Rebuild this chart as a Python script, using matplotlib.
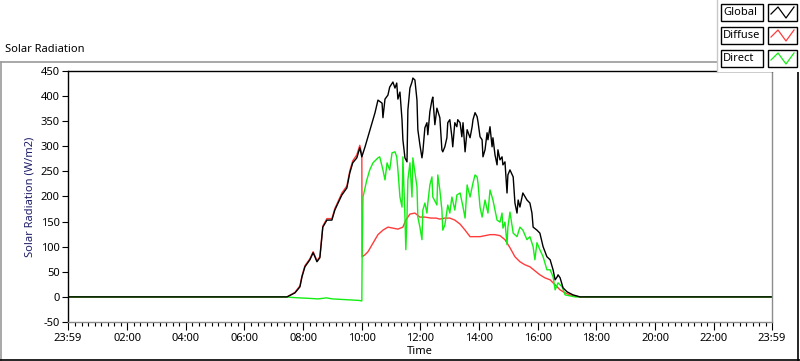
import matplotlib
matplotlib.use("Agg")
import matplotlib.pyplot as plt
from matplotlib.lines import Line2D
from matplotlib.patches import Rectangle
import numpy as np

plt.rcParams['font.family'] = ['Noto Sans', 'DejaVu Sans']

# axis range: 23:59 of previous day to 23:59
x_start = -1/60
x_end = 24 - 1/60

# global radiation (hours, W/m2)
glob_t = [x_start, 7.45, 7.72, 7.89, 7.96, 8.06, 8.23, 8.34, 8.40, 8.47, 8.57, 8.67, 8.81, 8.98,
          9.08, 9.19, 9.32, 9.49, 9.59, 9.69, 9.83, 9.93, 10.00, 10.11, 10.21, 10.35, 10.45,
          10.55, 10.69, 10.72, 10.79, 10.89, 10.95, 11.06, 11.13, 11.19, 11.23, 11.30, 11.37,
          11.40, 11.47, 11.54, 11.57, 11.64, 11.71, 11.74, 11.81, 11.88, 11.91, 11.98, 12.05,
          12.08, 12.15, 12.22, 12.25, 12.32, 12.39, 12.42, 12.49, 12.56, 12.66, 12.73, 12.76,
          12.83, 12.90, 12.93, 13.00, 13.07, 13.10, 13.17, 13.24, 13.27, 13.35, 13.41, 13.45,
          13.52, 13.59, 13.69, 13.76, 13.79, 13.86, 13.93, 13.96, 14.03, 14.10, 14.13, 14.20,
          14.27, 14.30, 14.37, 14.44, 14.47, 14.54, 14.61, 14.64, 14.71, 14.78, 14.81, 14.88,
          14.95, 14.98, 15.05, 15.16, 15.22, 15.29, 15.33, 15.39, 15.46, 15.49, 15.63, 15.73,
          15.80, 15.84, 15.97, 16.07, 16.18, 16.31, 16.42, 16.52, 16.59, 16.66, 16.69, 16.76,
          16.86, 17.00, 17.20, 17.44, x_end]
glob_v = [0, 0, 8, 20, 40, 60, 74, 88, 80, 70, 78, 139, 153, 153,
          173, 187, 203, 217, 247, 267, 277, 297, 279, 299, 319, 347, 367,
          392, 386, 357, 394, 402, 418, 428, 416, 426, 394, 408, 353,
          313, 277, 269, 372, 416, 428, 436, 432, 392, 333, 303, 277,
          289, 337, 347, 323, 369, 392, 398, 343, 376, 357, 293, 289,
          299, 317, 347, 353, 319, 299, 347, 339, 353, 347, 319, 347,
          289, 333, 317, 339, 353, 367, 359, 349, 319, 313, 279, 293,
          327, 313, 339, 299, 317, 283, 263, 293, 273, 279, 263, 269,
          207, 243, 253, 239, 187, 167, 193, 179, 199, 207, 193, 187,
          167, 139, 133, 127, 100, 80, 74, 54, 34, 40, 44, 38,
          18, 10, 4, 0, 0]

# diffuse radiation
diff_t = [x_start, 7.45, 7.72, 7.89, 7.96, 8.06, 8.23, 8.34, 8.40, 8.47, 8.57, 8.67, 8.81, 8.98,
          9.08, 9.19, 9.32, 9.49, 9.59, 9.69, 9.83, 9.93, 9.97, 10.00, 10.01, 10.11, 10.21,
          10.31, 10.45, 10.55, 10.72, 10.89, 11.06, 11.23, 11.40, 11.50, 11.64, 11.81, 11.98,
          12.15, 12.36, 12.53, 12.66, 12.83, 13.00, 13.17, 13.35, 13.52, 13.69, 13.86, 14.03,
          14.20, 14.37, 14.54, 14.71, 14.88, 15.05, 15.22, 15.39, 15.56, 15.73, 15.90, 16.07,
          16.24, 16.42, 16.59, 16.76, 16.93, 17.10, 17.20, 17.44, x_end]
diff_v = [0, 0, 9, 22, 42, 62, 76, 90, 82, 72, 80, 141, 156, 156,
          176, 190, 207, 221, 251, 271, 283, 302, 292, 285, 80, 84, 90,
          100, 114, 124, 133, 139, 137, 135, 139, 153, 165, 167, 159,
          159, 157, 157, 155, 157, 157, 153, 145, 133, 120, 120, 120,
          122, 124, 124, 122, 114, 98, 80, 70, 64, 60, 52, 44,
          38, 34, 24, 14, 8, 4, 2, 0, 0]

# direct radiation
dir_t = [x_start, 7.45, 7.60, 7.89, 8.23, 8.50, 8.80, 9.00, 9.30, 9.60, 9.90, 10.00, 10.01, 10.04,
         10.17, 10.27, 10.38, 10.55, 10.61, 10.72, 10.79, 10.86, 10.95, 11.03, 11.13, 11.19,
         11.23, 11.30, 11.37, 11.40, 11.47, 11.50, 11.54, 11.57, 11.64, 11.71, 11.74, 11.88,
         11.91, 11.98, 12.05, 12.08, 12.15, 12.22, 12.25, 12.32, 12.39, 12.42, 12.56, 12.59,
         12.66, 12.73, 12.76, 12.83, 12.93, 13.00, 13.07, 13.17, 13.24, 13.35, 13.45, 13.52,
         13.59, 13.69, 13.79, 13.86, 13.93, 13.96, 14.03, 14.10, 14.20, 14.30, 14.37, 14.47,
         14.61, 14.71, 14.78, 14.81, 14.88, 14.95, 14.98, 15.05, 15.16, 15.29, 15.39, 15.49,
         15.63, 15.73, 15.84, 15.90, 15.97, 16.07, 16.18, 16.31, 16.42, 16.52, 16.59, 16.69,
         16.83, 16.93, 17.10, 17.27, x_end]
dir_v = [0, 0, -1, -2, -3, -4, -2, -4, -5, -6, -7, -8, 80, 199,
         233, 253, 267, 277, 279, 253, 233, 267, 253, 287, 289, 279,
         253, 199, 179, 279, 159, 94, 159, 233, 267, 199, 277, 219,
         159, 139, 114, 173, 187, 167, 187, 223, 239, 199, 183, 243,
         213, 173, 133, 143, 183, 167, 199, 173, 203, 207, 179, 157,
         223, 199, 227, 243, 239, 227, 179, 159, 193, 167, 213, 193,
         153, 149, 167, 137, 149, 104, 139, 169, 127, 120, 139, 133,
         114, 120, 100, 74, 108, 94, 80, 54, 54, 40, 14, 28,
         20, 4, 2, 0, 0]

major_t = [x_start, 2, 4, 6, 8, 10, 12, 14, 16, 18, 20, 22, x_end]
major_lbl = ['23:59', '02:00', '04:00', '06:00', '08:00', '10:00', '12:00',
             '14:00', '16:00', '18:00', '20:00', '22:00', '23:59']
y_ticks = [-50, 0, 50, 100, 150, 200, 250, 300, 350, 400, 450]

c_glob = 'black'
c_diff = '#ff3b3b'
c_dir = '#12ee12'
fs = 8

fig = plt.figure(figsize=(8, 3.61), dpi=100)
W, H = 800, 361

def fx(p):
    return p / W

def fy(p):
    return 1 - p / H

ax = fig.add_axes([fx(68), fy(322), fx(772) - fx(68), fy(71) - fy(322)])
ax.plot(diff_t, diff_v, color=c_diff, lw=1.0)
ax.plot(dir_t, dir_v, color=c_dir, lw=1.0)
ax.plot(glob_t, glob_v, color=c_glob, lw=1.0)

ax.set_xlim(x_start, x_end)
ax.set_ylim(-50, 450)
ax.set_xticks(major_t)
ax.set_xticklabels(major_lbl, fontsize=fs)
minors = [k * 2 / 9 for k in range(1, 108) if k % 9 != 0]
ax.set_xticks(minors, minor=True)
ax.set_yticks(y_ticks)
ax.set_yticklabels([str(v) for v in y_ticks], fontsize=fs)
ax.tick_params(axis='x', which='major', length=6, width=0.8, pad=2)
ax.tick_params(axis='x', which='minor', length=3, width=0.8)
ax.tick_params(axis='y', length=4, width=0.8, pad=2)
ax.spines['left'].set_color('black')
ax.spines['top'].set_color('black')
ax.spines['right'].set_color('#8c8c8c')
ax.spines['bottom'].set_color('#8c8c8c')
for s in ax.spines.values():
    s.set_linewidth(1.0)
ax.set_ylabel('Solar Radiation (W/m2)', fontsize=fs, color='#1e1e6a', labelpad=4)
ax.set_xlabel('Time', fontsize=fs, labelpad=1)

fig.text(fx(5), fy(50), 'Solar Radiation', fontsize=fs, va='center', ha='left')

# outer panel frame
fig.add_artist(Line2D([fx(0.5), fx(717)], [fy(62), fy(62)], color='#9a9a9a', lw=1.2))
fig.add_artist(Line2D([fx(1), fx(1)], [fy(62), fy(360)], color='#9a9a9a', lw=1.2))
fig.add_artist(Line2D([fx(0), fx(800)], [fy(359.5), fy(359.5)], color='black', lw=1.2))
fig.add_artist(Line2D([fx(797.5), fx(797.5)], [fy(72), fy(360)], color='black', lw=1.2))

# legend panel
fig.add_artist(Rectangle((fx(717), fy(72)), fx(83), 72 / H, facecolor='white',
                         edgecolor='none', zorder=5))
fig.add_artist(Line2D([fx(717), fx(717)], [fy(0), fy(72)], color='#c8c8c8', lw=1.0, zorder=6))
names = ['Global', 'Diffuse', 'Direct']
colors = [c_glob, c_diff, c_dir]
tops = [4, 27, 50]
for name, col, top in zip(names, colors, tops):
    h = 17
    fig.add_artist(Rectangle((fx(721), fy(top + h)), fx(42), h / H, facecolor='white',
                             edgecolor='black', lw=1.0, zorder=7))
    fig.text(fx(723), fy(top + h / 2), name, fontsize=fs, va='center', ha='left', zorder=8)
    fig.add_artist(Rectangle((fx(768), fy(top + h)), fx(29), h / H, facecolor='white',
                             edgecolor='black', lw=1.0, zorder=7))
    zx = [771, 778, 786, 794]
    zy = [top + 10, top + 3, top + 14, top + 3]
    fig.add_artist(Line2D([fx(v) for v in zx], [fy(v) for v in zy], color=col, lw=0.9, zorder=8))

fig.savefig('out.png', dpi=100)
